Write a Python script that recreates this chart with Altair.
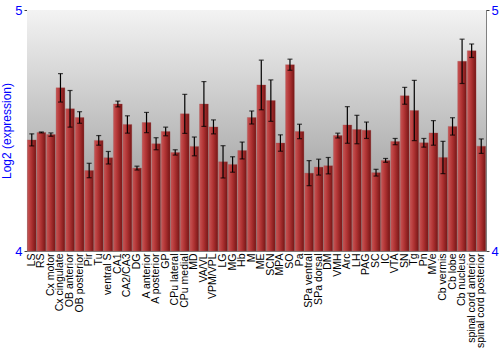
import altair as alt
import pandas as pd

regions = ["LS", "RS", "Cx motor", "Cx cingulate", "OB anterior", "OB posterior", "Pir", "Tu",
           "ventral S", "CA1", "CA2/CA3", "DG", "A anterior", "A posterior", "GP", "CPu lateral",
           "CPu medial", "MD", "VA/VL", "VPM/VPL", "LG", "MG", "Hb", "M",
           "ME", "SCN", "MPA", "SO", "Pa", "SPa ventral", "SPa dorsal", "DM", "VMH", "Arc", "LH",
           "PAG", "SC", "IC", "VTA", "SN", "Tg", "Pn", "MVe", "Cb vermis", "Cb lobe", "Cb nucleus",
           "spinal cord anterior", "spinal cord posterior"]
values = [4.461, 4.492, 4.483, 4.677, 4.590, 4.554, 4.334, 4.459,
          4.387, 4.610, 4.525, 4.344, 4.533, 4.445, 4.496, 4.409,
          4.569, 4.434, 4.610, 4.515, 4.370, 4.359, 4.417, 4.554,
          4.689, 4.624, 4.448, 4.773, 4.496, 4.323, 4.348, 4.354, 4.479, 4.523, 4.504,
          4.501, 4.325, 4.376, 4.454, 4.644, 4.583, 4.449, 4.490, 4.388, 4.517, 4.787,
          4.831, 4.435]
errors = [0.025, 0.002, 0.007, 0.059, 0.076, 0.024, 0.030, 0.020,
          0.026, 0.012, 0.036, 0.008, 0.042, 0.025, 0.018, 0.011,
          0.081, 0.039, 0.093, 0.029, 0.067, 0.032, 0.035, 0.027,
          0.103, 0.086, 0.034, 0.023, 0.030, 0.052, 0.033, 0.034, 0.010, 0.076, 0.059,
          0.034, 0.014, 0.008, 0.013, 0.035, 0.125, 0.018, 0.051, 0.067, 0.036, 0.092,
          0.028, 0.030]

df = pd.DataFrame({"region": regions, "value": values, "err": errors})
df["lo"] = df["value"] - df["err"]
df["hi"] = df["value"] + df["err"]

W, H = 459, 241
FONT = "Liberation Sans"

xenc = alt.X("region:N", sort=regions,
             scale=alt.Scale(paddingInner=0.08, paddingOuter=0.04),
             axis=alt.Axis(title=None, labelAngle=-90, labelFontSize=10.5, labelColor="black",
                           labelFont=FONT, ticks=False, domain=False, labelPadding=2,
                           labelOverlap=False))
xplain = alt.X("region:N", sort=regions)
yscale = alt.Scale(domain=[4, 5], zero=False, nice=False)

bg = alt.Chart(pd.DataFrame({"a": [0]})).mark_rect(
    fill=alt.Gradient(gradient="linear",
                      stops=[alt.GradientStop(color="#f3f3f3", offset=0),
                             alt.GradientStop(color="#888888", offset=1)],
                      x1=0, x2=0, y1=0, y2=1)
).encode(x=alt.value(0), x2=alt.value(W), y=alt.value(0), y2=alt.value(H))

bars = alt.Chart(df).mark_bar(
    fill=alt.Gradient(gradient="linear",
                      stops=[alt.GradientStop(color="#c85555", offset=0),
                             alt.GradientStop(color="#b03333", offset=0.45),
                             alt.GradientStop(color="#761515", offset=1)],
                      x1=0, x2=1, y1=0, y2=0),
    stroke="#a05050", strokeWidth=0.5, strokeOpacity=0.6
).encode(
    x=xenc,
    y=alt.Y("value:Q", scale=yscale,
            axis=alt.Axis(title="Log2 (expression)", orient="left", values=[4, 5], format="d",
                          labelColor="blue", titleColor="blue", labelFontSize=13,
                          titleFontSize=12, labelFont=FONT, titleFont=FONT,
                          titleFontWeight="normal", domainColor="#808080", tickColor="#404040",
                          tickSize=3, grid=False, titlePadding=1, labelPadding=2)),
    y2=alt.datum(4)
)

rules = alt.Chart(df).mark_rule(color="black", strokeWidth=1.2).encode(
    x=xplain, y=alt.Y("lo:Q", scale=yscale, axis=None), y2="hi:Q")
cap_lo = alt.Chart(df).mark_tick(color="black", size=5, thickness=1.2).encode(
    x=xplain, y=alt.Y("lo:Q", scale=yscale, axis=None))
cap_hi = alt.Chart(df).mark_tick(color="black", size=5, thickness=1.2).encode(
    x=xplain, y=alt.Y("hi:Q", scale=yscale, axis=None))

right = alt.Chart(df).mark_point(opacity=0).encode(
    x=xplain,
    y=alt.Y("value:Q", scale=yscale,
            axis=alt.Axis(title=None, orient="right", values=[4, 5], format="d",
                          labelColor="blue", labelFontSize=13, labelFont=FONT,
                          domainColor="#808080", tickColor="#404040", tickSize=3,
                          grid=False, labelPadding=2))
)

chart = alt.layer(bg, bars, rules, cap_lo, cap_hi, right).resolve_axis(y="independent").properties(
    width=W, height=H,
    autosize=alt.AutoSizeParams(type="none"),
    padding={"left": 27, "top": 10, "right": 14, "bottom": 99},
    background="white"
).configure_view(stroke="#808080", strokeWidth=1)

chart.save("out.html", embed_options={"renderer": "svg", "actions": False})
